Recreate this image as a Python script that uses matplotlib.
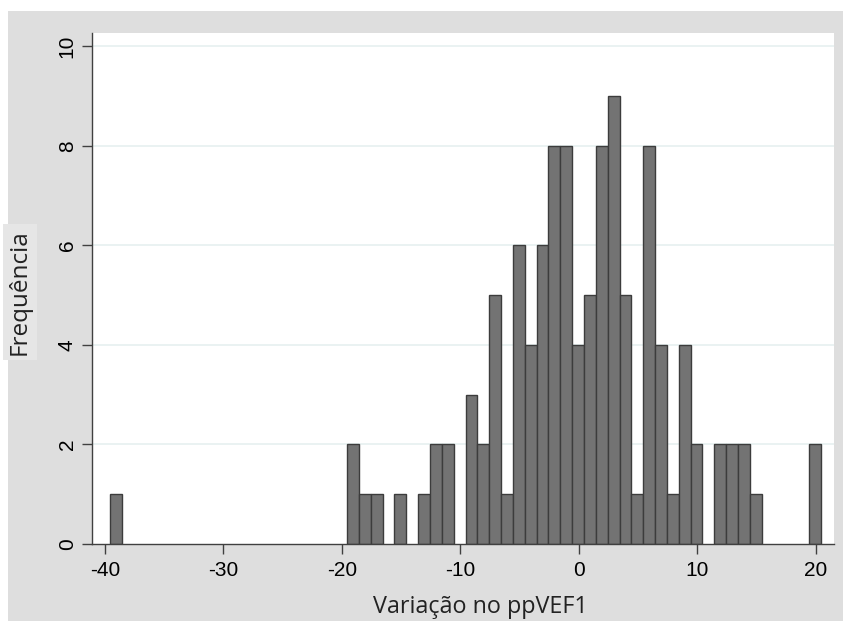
import numpy as np
import matplotlib.pyplot as plt
from matplotlib.patches import Rectangle

# histogram of change in ppVEF1, 60 bins of width 1
bin_start = -39.56
bin_width = 1.0
counts = [1, 0, 0, 0, 0, 0, 0, 0, 0, 0,
          0, 0, 0, 0, 0, 0, 0, 0, 0, 0,
          2, 1, 1, 0, 1, 0, 1, 2, 2, 0,
          3, 2, 5, 1, 6, 4, 6, 8, 8, 4,
          5, 8, 9, 5, 1, 8, 4, 1, 4, 2,
          0, 2, 2, 2, 1, 0, 0, 0, 0, 2]
x_ticks = [-40, -30, -20, -10, 0, 10, 20]
y_ticks = [0, 2, 4, 6, 8, 10]

counts = np.array(counts)
lefts = bin_start + bin_width * np.arange(len(counts))

fig = plt.figure(figsize=(8.43, 6.21), dpi=100, facecolor='white')
fig.patches.append(Rectangle((8 / 843, 0), 1, 1 - 11 / 621, transform=fig.transFigure,
                             facecolor='#dedede', edgecolor='none', zorder=-5))

ax = fig.add_axes([92 / 843, 77 / 621, 742 / 843, 511 / 621])
ax.set_zorder(2)
ax.set_facecolor('white')

for y in y_ticks[1:]:
    ax.axhline(y, color='#e6f0f0', lw=1.2, zorder=1)

mask = counts > 0
ax.bar(lefts[mask], counts[mask], width=bin_width, align='edge',
       color='#737373', edgecolor='#3c3c3c', linewidth=1.0, zorder=2)

ax.set_xlim(-41.1, 21.55)
ax.set_ylim(0, 10.27)
ax.set_xticks(x_ticks)
ax.set_yticks(y_ticks)
ax.set_xticklabels([str(t) for t in x_ticks], fontfamily='Liberation Sans', fontsize=15)
ax.set_yticklabels([str(t) for t in y_ticks], fontfamily='Liberation Sans', fontsize=15,
                   rotation=90, va='center')
ax.tick_params(axis='x', length=7, width=1, color='#404040', pad=5)
ax.tick_params(axis='y', length=7, width=1, color='#404040', pad=4)

for s in ['top', 'right']:
    ax.spines[s].set_visible(False)
for s in ['left', 'bottom']:
    ax.spines[s].set_color('#404040')
    ax.spines[s].set_linewidth(1.0)

fig.text(480 / 843, 1 - 607 / 621, 'Variação no ppVEF1', fontfamily='Open Sans',
         fontsize=16.8, ha='center', va='center', color='#222222')
fig.text(20 / 843, 1 - 292 / 621, 'Frequência', fontfamily='Open Sans', rotation=90,
         fontsize=17.5, ha='center', va='center', color='#222222',
         bbox=dict(boxstyle='square,pad=0.2', facecolor='#e6e6e6', edgecolor='none'))

fig.savefig('out.png', dpi=100, facecolor=fig.get_facecolor())
